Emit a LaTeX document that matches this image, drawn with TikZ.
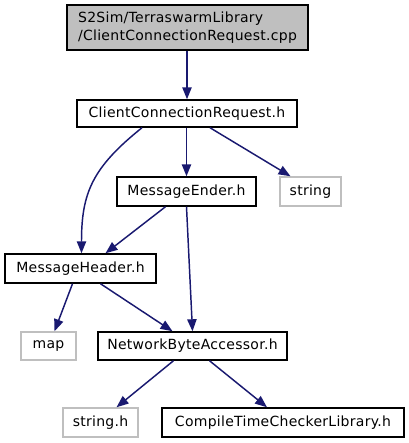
\documentclass[tikz,border=0pt]{standalone}
\usepackage{fontspec}
\setmainfont{DejaVu Sans}[LetterSpace=2]
\usetikzlibrary{arrows.meta,calc}
\definecolor{edgeblue}{HTML}{191970}
\definecolor{boxgray}{HTML}{BFBFBF}
\begin{document}
\begin{tikzpicture}[x=0.75pt,y=-0.75pt,
  every node/.style={font=\fontsize{10.5}{13}\selectfont, inner sep=0pt},
  filebox/.style={draw=black, line width=1.1pt, fill=white, align=center},
  extbox/.style={draw=boxgray, line width=1.1pt, fill=white, align=center},
  dep/.style={draw=edgeblue, line width=1.1pt, -{Triangle[length=9pt,width=7pt]}}]
\useasboundingbox (0,0) rectangle (408,443);
\node[filebox, fill=boxgray, minimum width=180.75pt, minimum height=33.75pt, align=left] (top) at (187.5,27.5)
  {S2Sim/TerraswarmLibrary\\/ClientConnectionRequest.cpp};
\node[filebox, minimum width=165pt, minimum height=20.25pt] (ccr) at (187,113.5) {ClientConnectionRequest.h};
\node[filebox, minimum width=104.25pt, minimum height=21.75pt] (ender) at (186.5,191.5) {MessageEnder.h};
\node[extbox, minimum width=45.75pt, minimum height=21.75pt] (string) at (310.5,191.5) {string};
\node[filebox, minimum width=113.25pt, minimum height=21.75pt] (header) at (80.5,268.5) {MessageHeader.h};
\node[extbox, minimum width=41.25pt, minimum height=21pt] (map) at (48.5,346) {map};
\node[filebox, minimum width=141.75pt, minimum height=21pt] (nba) at (192.5,346) {NetworkByteAccessor.h};
\node[extbox, minimum width=56.25pt, minimum height=21.75pt] (strh) at (100.5,422.5) {string.h};
\node[filebox, minimum width=181.5pt, minimum height=21.75pt] (ctcl) at (283,422.5) {CompileTimeCheckerLibrary.h};

\draw[dep] (top.south -| ccr.south) -- (ccr.north);
\draw[dep] (ccr.south -| ender.north) -- (ender.north);
\draw[dep] ($(ccr.south)+(23,0)$) -- ($(string.north)+(-20,0)$);
\draw[dep] ($(ccr.south)+(-45,0)$) .. controls ($(ccr.south)+(-95,40)$) and ($(header.north)+(1,-60)$) .. ($(header.north)+(1,0)$);
\draw[dep] ($(ender.south)+(-21,0)$) -- ($(header.north)+(25,0)$);
\draw[dep] (ender.south) -- ($(nba.north)+(0,0)$);
\draw[dep] ($(header.south)+(-8,0)$) -- ($(map.north)+(6,0)$);
\draw[dep] ($(header.south)+(20,0)$) -- ($(nba.north)+(-20,0)$);
\draw[dep] ($(nba.south)+(-19,0)$) -- ($(strh.north)+(16,0)$);
\draw[dep] ($(nba.south)+(17,0)$) -- ($(ctcl.north)+(-16,0)$);
\end{tikzpicture}
\end{document}
